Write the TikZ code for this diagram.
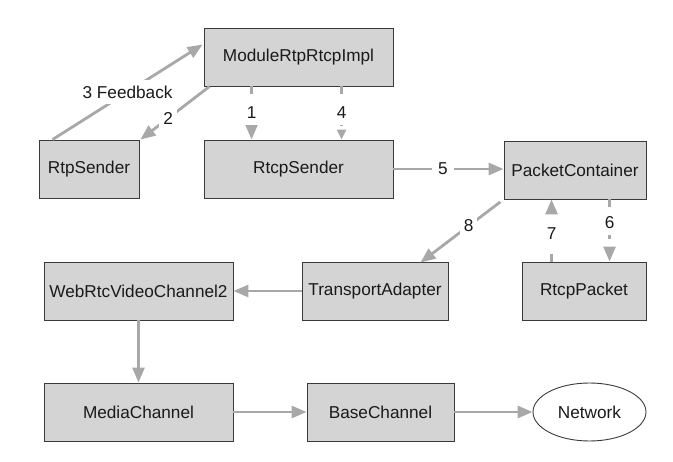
\documentclass[tikz,border=0pt]{standalone}
\usepackage{fontspec}
\setmainfont{Liberation Sans}
\usetikzlibrary{arrows.meta,shapes.geometric}
\definecolor{boxfill}{HTML}{D4D4D4}
\definecolor{boxline}{HTML}{3A3A3A}
\definecolor{arr}{HTML}{A8A8A8}
\definecolor{txt}{HTML}{1A1A1A}
\begin{document}
\begin{tikzpicture}[x=1pt,y=-1pt,
  every node/.style={font=\fontsize{17.2}{20}\selectfont, text=txt},
  blk/.style={draw=boxline, line width=0.9pt, fill=boxfill, minimum height=58pt, inner sep=0pt},
  ovalnode/.style={ellipse, draw=boxline, line width=0.9pt, fill=white, minimum width=113pt, minimum height=58pt, inner sep=0pt},
  conn/.style={draw=arr, line width=2.8pt, -{Triangle[length=15pt,width=12pt]}},
  smallconn/.style={draw=arr, line width=2.8pt, -{Triangle[length=10pt,width=9pt]}},
  dashconn/.style={dash pattern=on 8pt off 8pt},
  lbl/.style={fill=white, inner xsep=4pt, inner ysep=6pt, text=txt}
]
\useasboundingbox[fill=white] (0,0) rectangle (673,462);

\node[blk, minimum width=189pt] (mod) at (298.5,57) {ModuleRtpRtcpImpl};
\node[blk, minimum width=100pt] (rtp) at (89,169) {RtpSender};
\node[blk, minimum width=189pt] (rtcp) at (298.5,169) {RtcpSender};
\node[blk, minimum width=142pt] (pc) at (575,170) {PacketContainer};
\node[blk, minimum width=124pt] (rp) at (584,291) {RtcpPacket};
\node[blk, minimum width=146pt] (ta) at (375,291) {TransportAdapter};
\node[blk, minimum width=189pt] (wrvc) at (138.5,291) {WebRtcVideoChannel2};
\node[blk, minimum width=189pt] (mc) at (138.5,412) {MediaChannel};
\node[blk, minimum width=147pt] (bc) at (380.5,412) {BaseChannel};
\node[ovalnode] (net) at (589.5,412) {Network};

% 3 Feedback
\draw[conn] ([xshift=14pt]rtp.north west) -- ([yshift=-17pt,xshift=-1pt]mod.north west)
  node[lbl, midway] (l3) {3 Feedback};
% 2
\draw[conn] ([xshift=6pt]mod.south west) -- ([xshift=1pt]rtp.north east)
  node[lbl, pos=0.6] (l2) {2};
% 1
\draw[conn, dashconn] ([xshift=48pt]mod.south west) -- ([xshift=48pt]rtcp.north west)
  node[lbl, midway] (l1) {1};
% 4
\draw[smallconn, dashconn] ([xshift=138pt]mod.south west) -- ([xshift=138pt]rtcp.north west)
  node[lbl, midway] (l4) {4};
% 5
\draw[conn] (rtcp.east) -- (rtcp.east -| pc.west)
  node[lbl, pos=0.45, inner xsep=6pt] (l5) {5};
% 8
\draw[conn, shorten <=4pt] (pc.south west) -- ([xshift=-28pt,yshift=-1pt]ta.north east)
  node[lbl, pos=0.42] (l8) {8};
% 7
\draw[conn, dashconn] ([xshift=30pt]rp.north west) -- ([xshift=30pt]rp.north west |- pc.south)
  node[lbl, pos=0.45] (l7) {7};
% 6
\draw[conn, dashconn] ([xshift=106pt]pc.south west) -- ([xshift=106pt]pc.south west |- rp.north)
  node[lbl, pos=0.38] (l6) {6};
% lower chain
\draw[conn] (ta.west) -- (wrvc.east);
\draw[conn] (wrvc.south) -- (mc.north);
\draw[conn] (mc.east) -- (bc.west);
\draw[conn] (bc.east) -- (net.west);
\end{tikzpicture}
\end{document}
